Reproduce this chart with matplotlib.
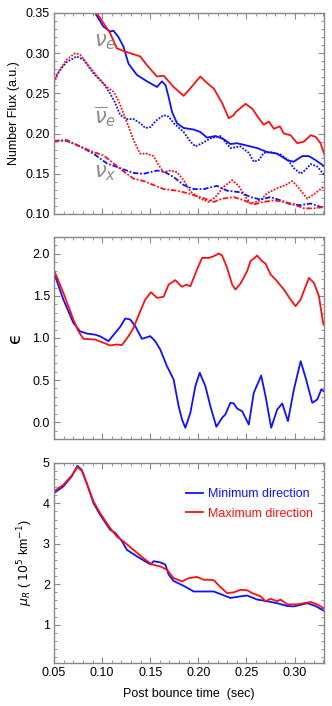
import numpy as np
import matplotlib
matplotlib.use('Agg')
import matplotlib.pyplot as plt
from matplotlib.ticker import MultipleLocator

plt.rcParams['font.family'] = ['Liberation Sans', 'DejaVu Sans']
plt.rcParams['mathtext.fontset'] = 'dejavusans'

# ---- top panel: number flux ----
t_nue_max = [0.085, 0.0944, 0.1083, 0.1153, 0.124, 0.1396, 0.1466, 0.157, 0.1639, 0.1743, 0.1847, 0.190,
             0.2021, 0.209, 0.216, 0.2247, 0.2316, 0.2368, 0.239, 0.249, 0.256, 0.2628, 0.268, 0.2733,
             0.2785, 0.2847, 0.2889, 0.2958, 0.3028, 0.3097, 0.3167, 0.3218, 0.327, 0.3313]
f_nue_max = [0.37, 0.35, 0.325, 0.306, 0.302, 0.296, 0.285, 0.271, 0.272, 0.258, 0.247, 0.254,
             0.271, 0.263, 0.256, 0.238, 0.219, 0.223, 0.227, 0.237, 0.231, 0.219, 0.211, 0.215,
             0.206, 0.209, 0.200, 0.198, 0.188, 0.190, 0.198, 0.196, 0.188, 0.173]

t_nue_min = [0.085, 0.0927, 0.1014, 0.1083, 0.1118, 0.117, 0.1222, 0.1274, 0.1361, 0.1466, 0.157, 0.1622,
             0.166, 0.169, 0.1726, 0.1778, 0.1847, 0.1951, 0.2021, 0.209, 0.2177, 0.2264, 0.2333, 0.2403,
             0.2507, 0.2611, 0.2715, 0.2819, 0.2924, 0.299, 0.308, 0.3149, 0.3218, 0.3313]
f_nue_min = [0.37, 0.35, 0.333, 0.327, 0.328, 0.320, 0.308, 0.287, 0.273, 0.265, 0.258, 0.265,
             0.260, 0.246, 0.227, 0.213, 0.207, 0.205, 0.202, 0.195, 0.197, 0.193, 0.187, 0.188,
             0.185, 0.182, 0.177, 0.175, 0.167, 0.165, 0.172, 0.172, 0.167, 0.159]

t_nuebar_min = [0.05, 0.0563, 0.0632, 0.0736, 0.0806, 0.091, 0.1014, 0.1083, 0.1136, 0.1188, 0.1257, 0.1326,
                0.1396, 0.1448, 0.15, 0.157, 0.1639, 0.1691, 0.1743, 0.1847, 0.1917, 0.1969, 0.2038, 0.2125,
                0.2229, 0.2333, 0.2438, 0.2524, 0.2576, 0.2628, 0.268, 0.275, 0.2854, 0.2924, 0.2993,
                0.3063, 0.3115, 0.3167, 0.3236, 0.3313]
f_nuebar_min = [0.269, 0.279, 0.289, 0.296, 0.292, 0.275, 0.262, 0.250, 0.238, 0.223, 0.218, 0.218,
                0.213, 0.207, 0.208, 0.217, 0.223, 0.221, 0.213, 0.202, 0.190, 0.184, 0.188, 0.194,
                0.197, 0.182, 0.184, 0.176, 0.165, 0.167, 0.176, 0.177, 0.174, 0.168, 0.157,
                0.150, 0.155, 0.162, 0.159, 0.148]

t_nuebar_max = [0.05, 0.0563, 0.0632, 0.0719, 0.0771, 0.0858, 0.0944, 0.1049, 0.1118, 0.117, 0.1222, 0.1274,
                0.1326, 0.1396, 0.1466, 0.1535, 0.1587, 0.1639, 0.1708, 0.1778, 0.1847, 0.1917, 0.2021,
                0.2108, 0.2177, 0.2264, 0.2351, 0.242, 0.249, 0.2542, 0.2646, 0.2715, 0.2819, 0.2906,
                0.2976, 0.3045, 0.3132, 0.3218, 0.3313]
f_nuebar_max = [0.263, 0.280, 0.292, 0.300, 0.298, 0.285, 0.272, 0.258, 0.252, 0.241, 0.225, 0.209,
                0.192, 0.175, 0.175, 0.172, 0.161, 0.152, 0.154, 0.152, 0.142, 0.128, 0.119,
                0.115, 0.121, 0.134, 0.142, 0.135, 0.121, 0.113, 0.117, 0.126, 0.132, 0.136,
                0.141, 0.132, 0.119, 0.126, 0.135]

t_nux_min = [0.05, 0.0632, 0.0771, 0.091, 0.1049, 0.1188, 0.1326, 0.1431, 0.157, 0.1639, 0.1743, 0.1847,
             0.1951, 0.2055, 0.2194, 0.2299, 0.2438, 0.2542, 0.2646, 0.275, 0.2854, 0.2958, 0.3063,
             0.3167, 0.3313]
f_nux_min = [0.191, 0.191, 0.184, 0.175, 0.163, 0.157, 0.151, 0.150, 0.154, 0.153, 0.146, 0.136,
             0.131, 0.131, 0.135, 0.129, 0.127, 0.121, 0.118, 0.121, 0.117, 0.112, 0.111,
             0.113, 0.107]

t_nux_max = [0.05, 0.0632, 0.0771, 0.091, 0.1014, 0.1118, 0.1222, 0.1326, 0.1431, 0.1535, 0.1639, 0.1778,
             0.1882, 0.2021, 0.216, 0.2247, 0.2368, 0.2472, 0.2576, 0.268, 0.2785, 0.2889, 0.2993,
             0.3097, 0.3201, 0.3313]
f_nux_max = [0.191, 0.192, 0.184, 0.177, 0.173, 0.163, 0.153, 0.144, 0.141, 0.136, 0.131, 0.129,
             0.126, 0.121, 0.115, 0.119, 0.121, 0.117, 0.112, 0.115, 0.117, 0.115, 0.112,
             0.107, 0.107, 0.109]

# ---- middle panel: epsilon ----
t_eps_max = [0.05, 0.0597, 0.0701, 0.0753, 0.0806, 0.0927, 0.1014, 0.1083, 0.1153, 0.1205, 0.1274, 0.1326,
             0.1396, 0.1448, 0.1507, 0.157, 0.1639, 0.1691, 0.176, 0.183, 0.1875, 0.1917, 0.1986, 0.2038,
             0.2108, 0.216, 0.2212, 0.2247, 0.2299, 0.2351, 0.2386, 0.2438, 0.2507, 0.2542, 0.2611,
             0.2663, 0.2698, 0.275, 0.2802, 0.2889, 0.2958, 0.301, 0.3063, 0.3149, 0.3201, 0.3253, 0.3299]
eps_max = [1.805, 1.537, 1.22, 1.081, 0.99, 0.982, 0.943, 0.911, 0.923, 0.915, 1.021, 1.121,
           1.318, 1.457, 1.544, 1.477, 1.49, 1.635, 1.687, 1.608, 1.635, 1.615, 1.813, 1.952,
           1.952, 1.972, 2.004, 1.98, 1.833, 1.635, 1.576, 1.647, 1.794, 1.912, 1.98,
           1.912, 1.885, 1.755, 1.696, 1.576, 1.457, 1.378, 1.457, 1.715, 1.655, 1.497, 1.16]

t_eps_min = [0.05, 0.0597, 0.0701, 0.077, 0.084, 0.0927, 0.0979, 0.1066, 0.1136, 0.1188, 0.124, 0.1292,
             0.1344, 0.1413, 0.15, 0.1552, 0.1604, 0.1674, 0.1743, 0.1795, 0.183, 0.1865, 0.1917, 0.1969,
             0.2014, 0.2073, 0.2125, 0.2187, 0.2247, 0.2281, 0.2333, 0.2368, 0.2403, 0.2455, 0.2524,
             0.2576, 0.2653, 0.2698, 0.2757, 0.2819, 0.2872, 0.2931, 0.2993, 0.3063, 0.3115, 0.3184,
             0.3236, 0.3278, 0.3299]
eps_min = [1.774, 1.457, 1.18, 1.08, 1.053, 1.04, 1.02, 0.962, 1.061, 1.133, 1.232, 1.22,
           1.141, 0.99, 1.022, 0.962, 0.863, 0.665, 0.507, 0.19, 0.032, -0.067, 0.112, 0.428,
           0.587, 0.428, 0.19, -0.055, 0.052, 0.092, 0.23, 0.222, 0.162, 0.13, -0.028,
           0.349, 0.554, 0.31, -0.067, 0.15, 0.222, 0.012, 0.389, 0.725, 0.527, 0.23,
           0.27, 0.389, 0.37]

# ---- bottom panel: mu_R ----
t_mu_min = [0.05, 0.0597, 0.0684, 0.0743, 0.0788, 0.084, 0.091, 0.0979, 0.1083, 0.1136, 0.1205, 0.1257,
            0.1361, 0.1466, 0.1507, 0.1535, 0.1604, 0.1656, 0.1691, 0.1743, 0.1847, 0.1951, 0.2055,
            0.216, 0.2247, 0.2333, 0.2438, 0.2507, 0.2611, 0.2715, 0.2819, 0.2924, 0.2993, 0.3132,
            0.3218, 0.3299]
mu_min = [4.257, 4.42, 4.67, 4.93, 4.83, 4.5, 4.01, 3.72, 3.35, 3.27, 3.07, 2.85,
          2.69, 2.54, 2.49, 2.57, 2.54, 2.49, 2.24, 2.08, 1.96, 1.82, 1.82,
          1.82, 1.74, 1.66, 1.70, 1.72, 1.62, 1.58, 1.53, 1.46, 1.45, 1.53,
          1.46, 1.35]

t_mu_max = [0.05, 0.0597, 0.0684, 0.0743, 0.0788, 0.084, 0.091, 0.0979, 0.1083, 0.1153, 0.1222, 0.1326,
            0.1431, 0.1517, 0.1604, 0.1674, 0.1743, 0.183, 0.1899, 0.1986, 0.2055, 0.2108, 0.216,
            0.2229, 0.2299, 0.2368, 0.2438, 0.2507, 0.2559, 0.2646, 0.2698, 0.275, 0.2819, 0.2854,
            0.2924, 0.3028, 0.3167, 0.3236, 0.3299]
mu_max = [4.30, 4.46, 4.69, 4.9, 4.81, 4.5, 4.05, 3.76, 3.39, 3.18, 3.06, 2.85,
          2.64, 2.49, 2.44, 2.36, 2.15, 2.07, 2.15, 2.18, 2.11, 2.11, 2.10,
          1.93, 1.78, 1.80, 1.86, 1.85, 1.78, 1.70, 1.58, 1.64, 1.58, 1.62,
          1.50, 1.50, 1.56, 1.50, 1.41]

BLUE = '#1010ff'
RED = '#ff1010'
FRAME = '#888888'
LABEL_GRAY = '#8c8c8c'
lw = 1.3
dot = (0, (1, 0.8))
dashdot = (0, (3, 1, 1, 1))

fig = plt.figure(figsize=(3.32, 7.06), dpi=100)
ax1 = fig.add_axes([0.1627, 0.6969, 0.813, 0.2847])
ax2 = fig.add_axes([0.1627, 0.3782, 0.813, 0.2861])
ax3 = fig.add_axes([0.1627, 0.0609, 0.813, 0.2833])

ax1.plot(t_nue_min, f_nue_min, color=BLUE, lw=lw)
ax1.plot(t_nue_max, f_nue_max, color=RED, lw=lw)
ax1.plot(t_nuebar_min, f_nuebar_min, color=BLUE, lw=lw, ls=dot)
ax1.plot(t_nuebar_max, f_nuebar_max, color=RED, lw=lw, ls=dot)
ax1.plot(t_nux_min, f_nux_min, color=BLUE, lw=lw, ls=dashdot)
ax1.plot(t_nux_max, f_nux_max, color=RED, lw=lw, ls=dashdot)
ax1.set_ylim(0.10, 0.35)
ax1.yaxis.set_major_locator(MultipleLocator(0.05))
ax1.yaxis.set_minor_locator(MultipleLocator(0.01))
ax1.yaxis.set_major_formatter(matplotlib.ticker.FormatStrFormatter('%.2f'))
ax1.set_ylabel('Number Flux (a.u.)', fontsize=9, labelpad=4)
ax1.text(0.0912, 0.308, r'$\nu_e$', color=LABEL_GRAY, fontsize=15, va='baseline')
ax1.text(0.0912, 0.213, r'$\overline{\nu}_e$', color=LABEL_GRAY, fontsize=15, va='baseline')
ax1.text(0.0912, 0.146, r'$\nu_x$', color=LABEL_GRAY, fontsize=15, va='baseline')

ax2.plot(t_eps_min, eps_min, color=BLUE, lw=lw)
ax2.plot(t_eps_max, eps_max, color=RED, lw=lw)
ax2.set_ylim(-0.2, 2.2)
ax2.yaxis.set_major_locator(MultipleLocator(0.5))
ax2.yaxis.set_minor_locator(MultipleLocator(0.1))
ax2.yaxis.set_major_formatter(matplotlib.ticker.FormatStrFormatter('%.1f'))
ax2.set_ylabel('\u03f5', fontsize=13, labelpad=6, family=['DejaVu Sans'])

ax3.plot(t_mu_min, mu_min, color=BLUE, lw=lw, label='Minimum direction')
ax3.plot(t_mu_max, mu_max, color=RED, lw=lw, label='Maximum direction')
ax3.set_ylim(0.05, 5)
ax3.yaxis.set_major_locator(MultipleLocator(1))
ax3.yaxis.set_minor_locator(MultipleLocator(0.2))
ax3.set_ylabel(r'$\mu_R$ ( $10^5$ km$^{-1}$)', fontsize=9, labelpad=6)
ax3.set_xlabel('Post bounce time  (sec)', fontsize=9, labelpad=6)
leg = ax3.legend(loc='upper right', bbox_to_anchor=(1.0, 0.93), frameon=False, fontsize=9,
                 handlelength=1.3, handletextpad=0.4, labelspacing=0.6)
for txt, c in zip(leg.get_texts(), [BLUE, RED]):
    txt.set_color(c)

for ax in (ax1, ax2, ax3):
    ax.set_xlim(0.05, 0.3305)
    ax.xaxis.set_major_locator(MultipleLocator(0.05))
    ax.xaxis.set_minor_locator(MultipleLocator(0.01))
    ax.tick_params(which='both', direction='in', top=True, right=True, color=FRAME,
                   labelsize=9, pad=3)
    ax.tick_params(which='major', length=4, width=0.8)
    ax.tick_params(which='minor', length=2, width=0.6)
    for s in ax.spines.values():
        s.set_color(FRAME)
        s.set_linewidth(1.0)
ax1.tick_params(labelbottom=False)
ax2.tick_params(labelbottom=False)
ax3.xaxis.set_major_formatter(matplotlib.ticker.FormatStrFormatter('%.2f'))

fig.savefig('out.png', dpi=100)
